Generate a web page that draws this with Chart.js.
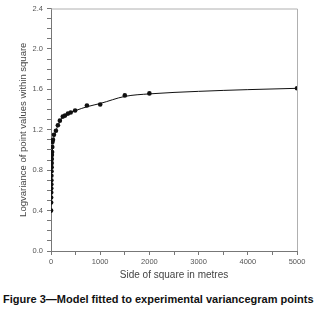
<!DOCTYPE html>
<html>
<head>
<meta charset="utf-8">
<script src="https://cdn.jsdelivr.net/npm/chart.js@4/dist/chart.umd.min.js"></script>
<style>
  html, body { margin: 0; padding: 0; background: #fff; }
  #wrap { position: relative; width: 326px; height: 317px; }
  #caption {
    position: absolute; left: 3px; top: 293px; white-space: nowrap;
    font: bold 11px "Liberation Sans", Arial, sans-serif; color: #111;
  }
</style>
</head>
<body>
<div id="wrap">
  <canvas id="chart" width="326" height="285"></canvas>
  <div id="caption">Figure 3—Model fitted to experimental variancegram points</div>
</div>
<script>
// experimental variancegram points
const sideX = [1, 2, 3, 4, 5, 6, 7, 8, 10, 12, 14, 16, 18, 22, 26, 30,
  40, 60, 100, 140, 180, 240, 285, 345, 400, 490, 730, 1000, 1500, 2000, 5000];
const logVar = [0.40, 0.48, 0.53, 0.58, 0.62, 0.66, 0.70, 0.745, 0.79, 0.83, 0.87, 0.91, 0.95, 0.98, 1.03, 1.08,
  1.10, 1.15, 1.19, 1.245, 1.29, 1.33, 1.34, 1.36, 1.37, 1.39, 1.44, 1.45, 1.54, 1.56, 1.61];

// fitted model curve
const modelX = [0, 2, 5, 10, 20, 30, 50, 100, 150, 200, 300, 500, 750, 1000, 1500, 2000, 3000, 4000, 5000];
const modelY = [0.38, 0.5, 0.62, 0.75, 0.9, 1.0, 1.1, 1.19, 1.25, 1.3, 1.35, 1.39, 1.43, 1.46, 1.53, 1.555, 1.58, 1.597, 1.61];

const yLabels = [0, 0.4, 0.8, 1.2, 1.6, 2.0, 2.4];
const xLabels = [0, 1000, 2000, 3000, 4000, 5000];

// light box round the plot area (top and right sides)
const frame = {
  id: "frame",
  afterDraw(c) {
    const a = c.chartArea, ctx = c.ctx;
    ctx.save();
    ctx.strokeStyle = "#b0b0b0";
    ctx.lineWidth = 1;
    ctx.beginPath();
    ctx.moveTo(a.left, a.top + 0.5);
    ctx.lineTo(a.right + 0.5, a.top + 0.5);
    ctx.lineTo(a.right + 0.5, a.bottom);
    ctx.stroke();
    ctx.restore();
  }
};

const tickFont = { family: "Liberation Sans, Arial, sans-serif", size: 7.5 };

new Chart(document.getElementById("chart"), {
  type: "scatter",
  data: {
    datasets: [
      {
        data: modelX.map((x, i) => ({ x: x, y: modelY[i] })),
        showLine: true,
        cubicInterpolationMode: "monotone",
        borderColor: "#111",
        borderWidth: 1,
        pointRadius: 0
      },
      {
        data: sideX.map((x, i) => ({ x: x, y: logVar[i] })),
        backgroundColor: "#111",
        borderColor: "#111",
        pointRadius: 2.3,
        borderWidth: 0
      }
    ]
  },
  options: {
    responsive: false,
    animation: false,
    layout: { padding: { top: 6, right: 29, left: 16, bottom: 0 } },
    plugins: { legend: { display: false }, tooltip: { enabled: false } },
    scales: {
      x: {
        type: "linear", min: 0, max: 5000,
        afterFit: s => { s.height = 34; },
        ticks: {
          stepSize: 500, autoSkip: false, maxRotation: 0, padding: 2,
          color: "#555", font: tickFont,
          callback: v => xLabels.includes(v) ? String(v) : ""
        },
        grid: { drawOnChartArea: false, drawTicks: true, tickLength: 4, color: "#777" },
        border: { color: "#777" },
        title: {
          display: true, text: "Side of square in metres", color: "#444",
          font: { family: "Liberation Sans, Arial, sans-serif", size: 10 },
          padding: { top: 0, bottom: 4 }
        }
      },
      y: {
        min: 0, max: 2.4,
        afterFit: s => { s.width = 35; },
        ticks: {
          stepSize: 0.1, autoSkip: false, padding: 4,
          color: "#555", font: tickFont,
          callback: v => {
            const t = Math.round(v * 10) / 10;
            return yLabels.some(l => Math.abs(l - t) < 1e-6) ? t.toFixed(1) : "";
          }
        },
        grid: { drawOnChartArea: false, drawTicks: true, tickLength: 4, color: "#777" },
        border: { color: "#777" },
        title: {
          display: true, text: "Logvariance of point values within square", color: "#444",
          font: { family: "Liberation Sans, Arial, sans-serif", size: 9.5 },
          padding: { top: 2, bottom: 0 }
        }
      }
    }
  },
  plugins: [frame]
});
</script>
</body>
</html>
